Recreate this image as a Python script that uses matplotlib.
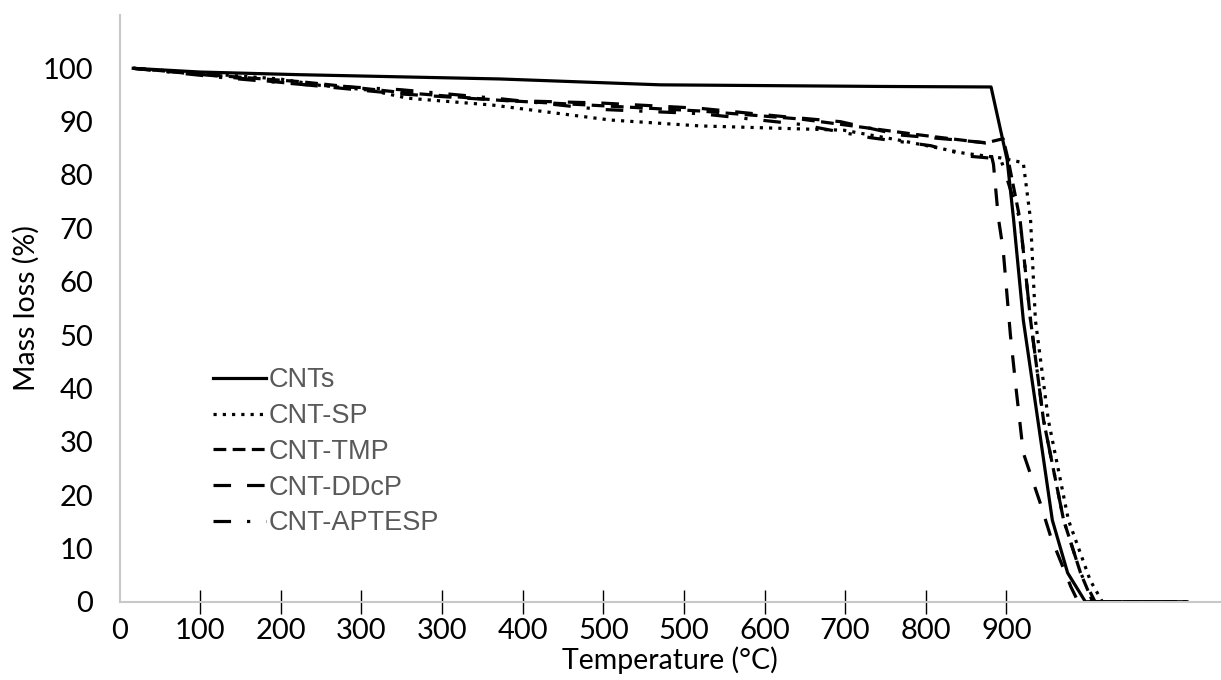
import matplotlib.pyplot as plt

# x positions in tick units (one tick = 100 on the printed axis), mass in %
cnts_x = [17, 100, 224, 472, 671, 944, 1081, 1101, 1109, 1121, 1139, 1157, 1176, 1198, 1324]
cnts_y = [100, 99.3, 98.8, 98.0, 96.9, 96.6, 96.5, 82.8, 71.6, 52.8, 34.1, 15.3, 5.4, 0, 0]

sp_x = [17, 125, 199, 249, 311, 357, 463, 609, 720, 898, 968, 1047, 1093, 1121, 1130, 1136, 1152, 1177, 1204, 1219, 1324]
sp_y = [100, 98.8, 98.0, 96.8, 95.9, 94.4, 93.1, 90.3, 89.2, 88.4, 86.5, 84.1, 83.2, 82.3, 71.6, 52.8, 34.1, 15.3, 4.0, 0, 0]

tmp_x = [17, 125, 224, 348, 472, 596, 720, 844, 919, 993, 1074, 1096, 1102, 1117, 1130, 1146, 1171, 1192, 1207, 1324]
tmp_y = [100, 98.6, 97.5, 95.5, 94.0, 93.0, 92.0, 90.5, 89.0, 87.5, 86.0, 86.8, 83.0, 71.6, 52.8, 34.1, 15.3, 5.4, 0, 0]

ddcp_x = [17, 125, 224, 348, 472, 596, 720, 820, 894, 968, 1043, 1078, 1084, 1090, 1096, 1105, 1112, 1121, 1142, 1155, 1180, 1189, 1324]
ddcp_y = [100, 98.5, 97.0, 95.2, 94.0, 93.5, 92.5, 91.0, 90.0, 87.5, 86.5, 86.0, 82.0, 72.0, 66.0, 50.0, 40.0, 27.9, 18.5, 12.2, 2.8, 0, 0]

apt_x = [17, 125, 224, 348, 472, 596, 720, 844, 931, 1006, 1055, 1093, 1117, 1130, 1146, 1171, 1192, 1210, 1324]
apt_y = [100, 98.3, 97.0, 96.0, 94.3, 92.3, 91.5, 89.5, 87.0, 85.5, 83.5, 83.0, 71.6, 52.8, 34.1, 15.3, 5.4, 0, 0]

tick_pos = [0, 100, 200, 300, 400, 500, 600, 700, 800, 900, 1000, 1100]
tick_labels = ['0', '100', '200', '300', '300', '400', '500', '500', '600', '700', '800', '900']
y_ticks = [0, 10, 20, 30, 40, 50, 60, 70, 80, 90, 100]

fig = plt.figure(figsize=(12.21, 6.8), dpi=100)
ax = fig.add_axes([0.0979, 0.1151, 0.9013, 0.8629])

lw = 2.3
ax.plot(cnts_x, cnts_y, color='black', lw=lw, linestyle='-', label='CNTs')
ax.plot(sp_x, sp_y, color='black', lw=lw, linestyle=(0, (1, 1.9)), label='CNT-SP')
ax.plot(tmp_x, tmp_y, color='black', lw=lw, linestyle=(0, (4, 2)), label='CNT-TMP')
ax.plot(ddcp_x, ddcp_y, color='black', lw=lw, linestyle=(0, (5.5, 5)), label='CNT-DDcP')
ax.plot(apt_x, apt_y, color='black', lw=lw, linestyle=(0, (5.5, 5, 1, 5)), label='CNT-APTESP')

ax.set_xlim(0, 1365)
ax.set_ylim(0, 110)
ax.set_xticks(tick_pos[1:])
ax.set_xticklabels(tick_labels[1:])
ax.set_xticks([0], minor=True)
ax.set_xticklabels(['0'], minor=True)
ax.set_yticks(y_ticks)

for s in ['top', 'right']:
    ax.spines[s].set_visible(False)
for s in ['left', 'bottom']:
    ax.spines[s].set_color('#c8c8c8')
    ax.spines[s].set_linewidth(1.5)

ax.tick_params(axis='x', which='major', direction='inout', length=17, width=1.0,
               color='black', labelsize=21, pad=3)
ax.tick_params(axis='x', which='minor', length=0, labelsize=21, pad=11.5)
ax.tick_params(axis='y', length=0, labelsize=21, pad=19)
for lab in ax.get_xticklabels(which='both') + ax.get_yticklabels():
    lab.set_fontfamily('Lato')

ax.set_xlabel('Temperature (°C)', fontsize=20.5, fontfamily='Lato', labelpad=2)
ax.set_ylabel('Mass loss (%)', fontsize=20.5, fontfamily='Lato', labelpad=2)

leg = ax.legend(loc='upper left', bbox_to_anchor=(0.0755, 0.418), frameon=False,
                prop={'family': 'Liberation Sans', 'size': 19.5}, handlelength=1.95,
                handletextpad=0.08, labelspacing=0.36, borderaxespad=0)
for t in leg.get_texts():
    t.set_color('#595959')

fig.savefig('out.png', dpi=100)
